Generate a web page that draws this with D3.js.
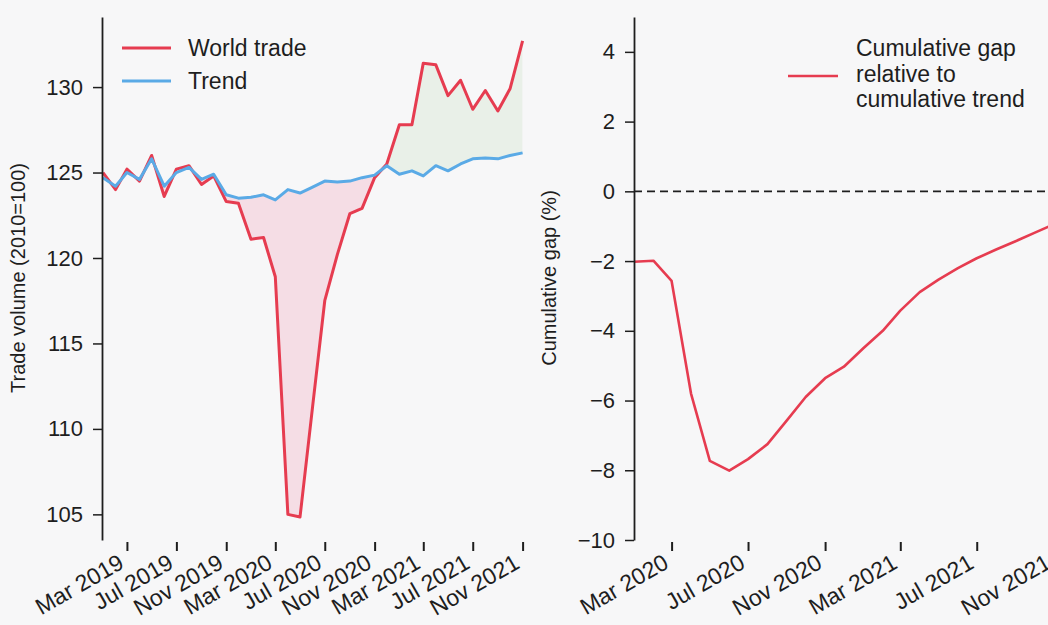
<!DOCTYPE html>
<html>
<head>
<meta charset="utf-8">
<script src="https://cdn.jsdelivr.net/npm/d3@7"></script>
<style>
  body { margin: 0; background: #f7f7f8; }
  svg { display: block; font-family: "Liberation Sans", Arial, sans-serif; }
</style>
</head>
<body>
<svg id="chart" width="1048" height="625"></svg>
<script>
// monthly world trade volume vs. trend (2010=100)
const months = [
  "2019-01","2019-02","2019-03","2019-04","2019-05","2019-06","2019-07","2019-08","2019-09","2019-10","2019-11","2019-12",
  "2020-01","2020-02","2020-03","2020-04","2020-05","2020-06","2020-07","2020-08","2020-09","2020-10","2020-11","2020-12",
  "2021-01","2021-02","2021-03","2021-04","2021-05","2021-06","2021-07","2021-08","2021-09","2021-10","2021-11"
];
const worldTrade = [
  125.0, 124.0, 125.2, 124.5, 126.0, 123.6, 125.2, 125.4, 124.3, 124.8, 123.3, 123.2,
  121.1, 121.2, 118.9, 105.0, 104.85, 111.3, 117.5, 120.2, 122.6, 122.9, 124.7, 125.5,
  127.8, 127.8, 131.4, 131.3, 129.5, 130.4, 128.7, 129.8, 128.6, 129.9, 132.7
];
const trend = [
  124.7, 124.2, 125.0, 124.6, 125.8, 124.2, 125.0, 125.3, 124.6, 124.9, 123.7, 123.5,
  123.55, 123.7, 123.4, 124.0, 123.8, 124.15, 124.5, 124.45, 124.5, 124.7, 124.85, 125.4,
  124.9, 125.1, 124.8, 125.4, 125.1, 125.5, 125.8, 125.85, 125.8, 126.0, 126.15
];
const leftTicks = ["2019-03","2019-07","2019-11","2020-03","2020-07","2020-11","2021-03","2021-07","2021-11"];
const leftYTicks = [105, 110, 115, 120, 125, 130];

// cumulative gap relative to cumulative trend (%)
const gapMonths = [
  "2020-01","2020-02","2020-03","2020-04","2020-05","2020-06","2020-07","2020-08","2020-09","2020-10","2020-11","2020-12",
  "2021-01","2021-02","2021-03","2021-04","2021-05","2021-06","2021-07","2021-08","2021-09","2021-10","2021-11"
];
const cumGap = [
  -2.02, -1.99, -2.57, -5.8, -7.73, -8.01, -7.68, -7.25, -6.57, -5.9, -5.36, -5.03,
  -4.5, -4.0, -3.42, -2.89, -2.53, -2.2, -1.92, -1.67, -1.43, -1.19, -0.95
];
const rightTicks = ["2020-03","2020-07","2020-11","2021-03","2021-07","2021-11"];
const rightYTicks = [-10, -8, -6, -4, -2, 0, 2, 4];

const red = "#e63c50", blue = "#5aaae6", ink = "#1e1e1e";
const parse = d3.timeParse("%Y-%m");
const fmt = d3.timeFormat("%b %Y");

const svg = d3.select("#chart");
const plotTop = 17, plotBottom = 540;

function xAxisLabels(g) {
  g.select(".domain").remove();
  g.selectAll(".tick line").attr("stroke", ink).attr("stroke-width", 2);
  g.selectAll(".tick text")
    .attr("x", 0).attr("y", 0).attr("dy", 0)
    .attr("text-anchor", "end")
    .attr("transform", "translate(-2,25) rotate(-30)")
    .attr("font-size", 23).attr("fill", ink);
}
function yAxisStyle(g) {
  g.select(".domain").attr("stroke", ink).attr("stroke-width", 1.8);
  g.selectAll(".tick line").attr("stroke", ink).attr("stroke-width", 1.5);
  g.selectAll(".tick text").attr("font-size", 22).attr("fill", ink);
}

// ---------- left panel ----------
const data = months.map((m, i) => ({ date: parse(m), w: worldTrade[i], t: trend[i] }));
const x = d3.scaleTime([parse("2019-01"), parse("2021-11")], [103, 522.6]);
const y = d3.scaleLinear([103.5, 134.1], [plotBottom, plotTop]);

const between = d3.area().x(d => x(d.date)).y0(d => y(d.t)).y1(d => y(d.w));
const defs = svg.append("defs");
defs.append("clipPath").attr("id", "belowTrend")
  .append("path").attr("d", d3.area().x(d => x(d.date)).y0(plotBottom).y1(d => y(d.t))(data));
defs.append("clipPath").attr("id", "aboveTrend")
  .append("path").attr("d", d3.area().x(d => x(d.date)).y0(plotTop).y1(d => y(d.t))(data));

svg.append("path").attr("d", between(data))
  .attr("fill", "rgba(235,90,130,0.16)").attr("clip-path", "url(#belowTrend)");
svg.append("path").attr("d", between(data))
  .attr("fill", "rgba(130,195,110,0.11)").attr("clip-path", "url(#aboveTrend)");

svg.append("path").datum(data)
  .attr("d", d3.line().x(d => x(d.date)).y(d => y(d.w)))
  .attr("fill", "none").attr("stroke", red).attr("stroke-width", 3).attr("stroke-linejoin", "round");
svg.append("path").datum(data)
  .attr("d", d3.line().x(d => x(d.date)).y(d => y(d.t)))
  .attr("fill", "none").attr("stroke", blue).attr("stroke-width", 3).attr("stroke-linejoin", "round");

svg.append("g").attr("transform", "translate(102,0)")
  .call(d3.axisLeft(y).tickValues(leftYTicks).tickSize(9).tickSizeOuter(0).tickPadding(10))
  .call(yAxisStyle);

svg.append("g").attr("transform", "translate(0,542)")
  .call(d3.axisBottom(x).tickValues(leftTicks.map(parse)).tickFormat(fmt).tickSize(9))
  .call(xAxisLabels);

svg.append("text").attr("transform", "translate(25,278) rotate(-90)")
  .attr("text-anchor", "middle").attr("font-size", 20).attr("fill", ink)
  .text("Trade volume (2010=100)");

const leg = svg.append("g").attr("font-size", 23).attr("fill", ink);
[["World trade", red, 48], ["Trend", blue, 81]].forEach(([label, c, ly]) => {
  leg.append("line").attr("x1", 122).attr("x2", 171).attr("y1", ly).attr("y2", ly)
    .attr("stroke", c).attr("stroke-width", 3);
  leg.append("text").attr("x", 188).attr("y", ly + 8).text(label);
});

// ---------- right panel ----------
const gap = gapMonths.map((m, i) => ({ date: parse(m), v: cumGap[i] }));
const x2 = d3.scaleTime([parse("2020-01"), parse("2021-11")], [634, 1053.8]);
const y2 = d3.scaleLinear([-10, 5], [plotBottom, plotTop]);

svg.append("line").attr("x1", 634).attr("x2", 1048).attr("y1", y2(0)).attr("y2", y2(0))
  .attr("stroke", ink).attr("stroke-width", 1.6).attr("stroke-dasharray", "8,5");

svg.append("path").datum(gap)
  .attr("d", d3.line().x(d => x2(d.date)).y(d => y2(d.v)))
  .attr("fill", "none").attr("stroke", red).attr("stroke-width", 2.6).attr("stroke-linejoin", "round");

svg.append("g").attr("transform", "translate(634,0)")
  .call(d3.axisLeft(y2).tickValues(rightYTicks).tickSize(9).tickSizeOuter(0).tickPadding(10))
  .call(yAxisStyle);

svg.append("g").attr("transform", "translate(0,542)")
  .call(d3.axisBottom(x2).tickValues(rightTicks.map(parse)).tickFormat(fmt).tickSize(9))
  .call(xAxisLabels);

svg.append("text").attr("transform", "translate(556,278) rotate(-90)")
  .attr("text-anchor", "middle").attr("font-size", 20).attr("fill", ink)
  .text("Cumulative gap (%)");

const leg2 = svg.append("g").attr("font-size", 23).attr("fill", ink);
leg2.append("line").attr("x1", 788).attr("x2", 838).attr("y1", 76).attr("y2", 76)
  .attr("stroke", red).attr("stroke-width", 2.6);
["Cumulative gap", "relative to", "cumulative trend"].forEach((t, i) => {
  leg2.append("text").attr("x", 856).attr("y", 56 + i * 25.5).text(t);
});
</script>
</body>
</html>
